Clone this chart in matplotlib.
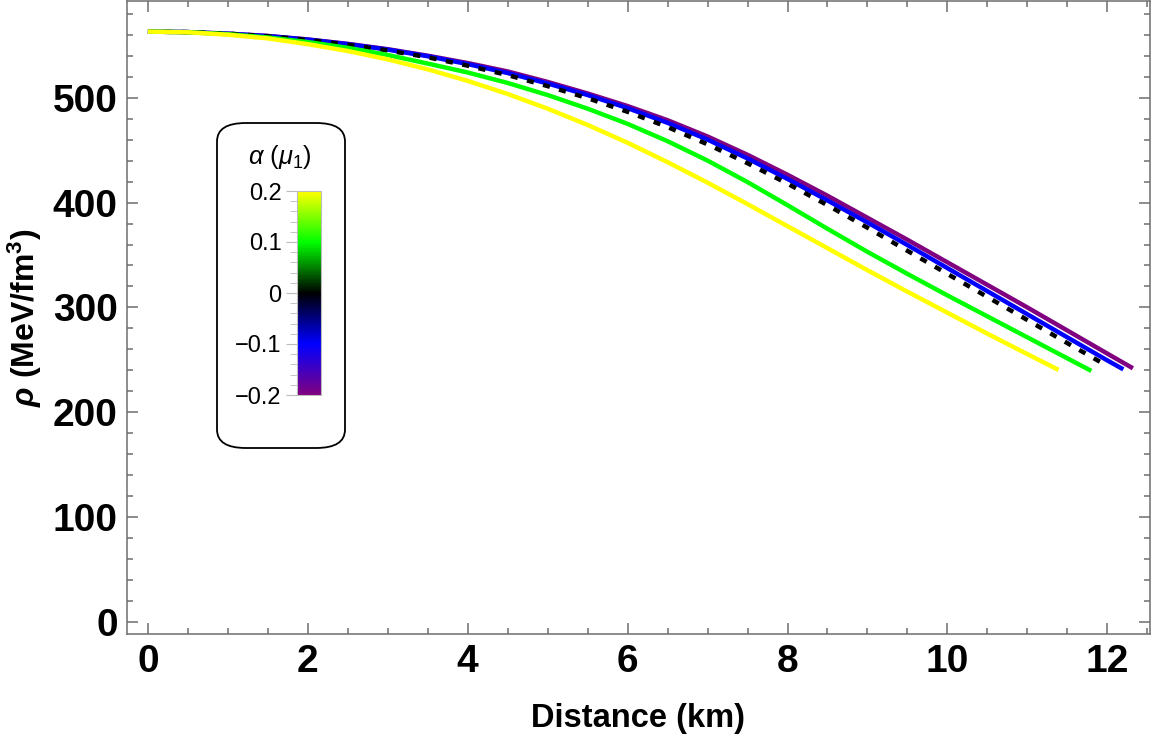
import numpy as np
import matplotlib.pyplot as plt
from matplotlib.colors import LinearSegmentedColormap, Normalize
from matplotlib.cm import ScalarMappable
from matplotlib.patches import FancyBboxPatch
from matplotlib.ticker import MultipleLocator

plt.rcParams['font.family'] = ['Liberation Sans', 'DejaVu Sans']
plt.rcParams['mathtext.fontset'] = 'custom'
plt.rcParams['mathtext.rm'] = 'Liberation Sans'
plt.rcParams['mathtext.it'] = 'Liberation Sans:italic'
plt.rcParams['mathtext.bf'] = 'Liberation Sans:bold:italic'

# radial distance (km) and density (MeV/fm^3), one pair per alpha
r_yellow = [0, 0.5, 1, 1.5, 2, 2.5, 3, 3.5, 4, 4.5, 5, 5.5, 6, 6.5, 7, 7.5, 8,
            8.5, 9, 9.5, 10, 10.5, 11, 11.39]
rho_yellow = [563, 562.3, 560, 556.5, 551, 544.5, 536.5, 527, 516, 503.5, 489.5,
              474, 457, 438.5, 419, 398.5, 377.5, 356.5, 335.5, 315, 295, 275,
              255.5, 240.5]

r_green = [0, 0.5, 1, 1.5, 2, 2.5, 3, 3.5, 4, 4.5, 5, 5.5, 6, 6.5, 7, 7.5, 8,
           8.5, 9, 9.5, 10, 10.5, 11, 11.5, 11.8]
rho_green = [563, 562.4, 560.5, 557.4, 553, 547.5, 540.7, 532.5, 524, 514, 502.5,
             489.5, 475, 458.5, 440, 419.5, 397.5, 375, 353, 332, 311.5, 291.5,
             271.5, 251.5, 239.5]

r_black = [0, 0.5, 1, 1.5, 2, 2.5, 3, 3.5, 4, 4.5, 5, 5.5, 6, 6.5, 7, 7.5, 8,
           8.5, 9, 9.5, 10, 10.5, 11, 11.5, 11.97]
rho_black = [563, 562.5, 561, 558.5, 555, 550.5, 545, 538.5, 530.5, 521.5, 511,
             499.5, 486.5, 472, 455.5, 437.5, 418, 397.5, 376, 354, 332, 310, 288,
             266, 245.5]

r_blue = [0, 0.5, 1, 1.5, 2, 2.5, 3, 3.5, 4, 4.5, 5, 5.5, 6, 6.5, 7, 7.5, 8,
          8.5, 9, 9.5, 10, 10.5, 11, 11.5, 12, 12.2]
rho_blue = [563, 562.5, 561, 558.7, 555.3, 551, 545.8, 539.5, 532, 523.5, 513.5,
            502.5, 490, 476, 460, 442, 422.5, 402, 381, 359.5, 337.5, 315.5, 293.5,
            271.5, 249.5, 241]

r_purple = [0, 0.5, 1, 1.5, 2, 2.5, 3, 3.5, 4, 4.5, 5, 5.5, 6, 6.5, 7, 7.5, 8,
            8.5, 9, 9.5, 10, 10.5, 11, 11.5, 12, 12.32]
rho_purple = [563, 562.5, 561, 558.8, 555.5, 551.3, 546.2, 540, 533, 525, 515,
              504, 492, 478.5, 463, 445.5, 426.5, 406.5, 385.5, 364.5, 343, 321.5,
              300, 278, 256, 242]

alpha_ticks = [-0.2, -0.1, 0, 0.1, 0.2]
alpha_labels = ['\u22120.2', '\u22120.1', '0', '0.1', '0.2']

fig = plt.figure(figsize=(11.52, 7.36), dpi=100)
ax = fig.add_axes([0.110, 0.1386, 0.888, 0.8594])

lw = 3.2
ax.plot(r_purple, rho_purple, color='#800080', lw=lw, solid_capstyle='butt')
ax.plot(r_blue, rho_blue, color='#0000FF', lw=lw, solid_capstyle='butt')
ax.plot(r_black, rho_black, color='black', lw=lw, dashes=(1.6, 2.15), dash_capstyle='butt')
ax.plot(r_green, rho_green, color='#00FF00', lw=lw, solid_capstyle='butt')
ax.plot(r_yellow, rho_yellow, color='#FFFF00', lw=lw, solid_capstyle='butt')

ax.set_xlim(-0.265, 12.53)
ax.set_ylim(-11.3, 591.7)
ax.xaxis.set_major_locator(MultipleLocator(2))
ax.xaxis.set_minor_locator(MultipleLocator(0.5))
ax.yaxis.set_major_locator(MultipleLocator(100))
ax.yaxis.set_minor_locator(MultipleLocator(20))

gray = '#6e6e6e'
for s in ax.spines.values():
    s.set_color(gray)
    s.set_linewidth(1.1)
ax.tick_params(which='both', direction='in', top=True, right=True, color=gray, width=1.1)
ax.tick_params(which='major', length=8, labelsize=28)
ax.tick_params(which='minor', length=4.5)
ax.tick_params(axis='x', which='major', pad=7)
ax.tick_params(axis='y', which='major', pad=6.5)
for lab in ax.get_xticklabels() + ax.get_yticklabels():
    lab.set_fontweight('bold')

ax.set_xlabel('Distance (km)', fontsize=23.5, fontweight='bold', labelpad=17)
ax.set_ylabel(r'$\mathbf{\rho}$ (MeV/fm$^{\mathregular{3}}$)', fontsize=23,
              fontweight='bold', labelpad=6)

# legend box with the colour scale
W, H = 1152.0, 736.0
box = FancyBboxPatch((217 / W, 1 - 448 / H), 128 / W, 325 / H,
                     boxstyle='round,pad=0,rounding_size=0.025',
                     transform=fig.transFigure, facecolor='white',
                     edgecolor='black', linewidth=1.3, zorder=5)
fig.patches.append(box)
fig.text(280 / W, 1 - 157 / H, r'$\alpha$ ($\mu_1$)', fontsize=18.4,
         ha='center', va='center', zorder=6)

cmap = LinearSegmentedColormap.from_list(
    'alpha', [(0.0, '#800080'), (0.25, '#0000FF'), (0.5, '#000000'),
              (0.75, '#00FF00'), (1.0, '#FFFF00')])
cax = fig.add_axes([297 / W, 1 - 395 / H, 24 / W, 204 / H], zorder=6)
cb = fig.colorbar(ScalarMappable(norm=Normalize(-0.2, 0.2), cmap=cmap), cax=cax)
cb.outline.set_edgecolor('#bbbbbb')
cb.outline.set_linewidth(0.8)
cax.yaxis.set_ticks_position('left')
cax.set_yticks(alpha_ticks)
cax.set_yticklabels(alpha_labels)
cax.yaxis.set_minor_locator(MultipleLocator(0.02))
cax.tick_params(which='major', length=8, color='#bbbbbb', labelsize=17, pad=3)
cax.tick_params(which='minor', length=5, color='#bbbbbb')

fig.savefig('out.png', dpi=100)
